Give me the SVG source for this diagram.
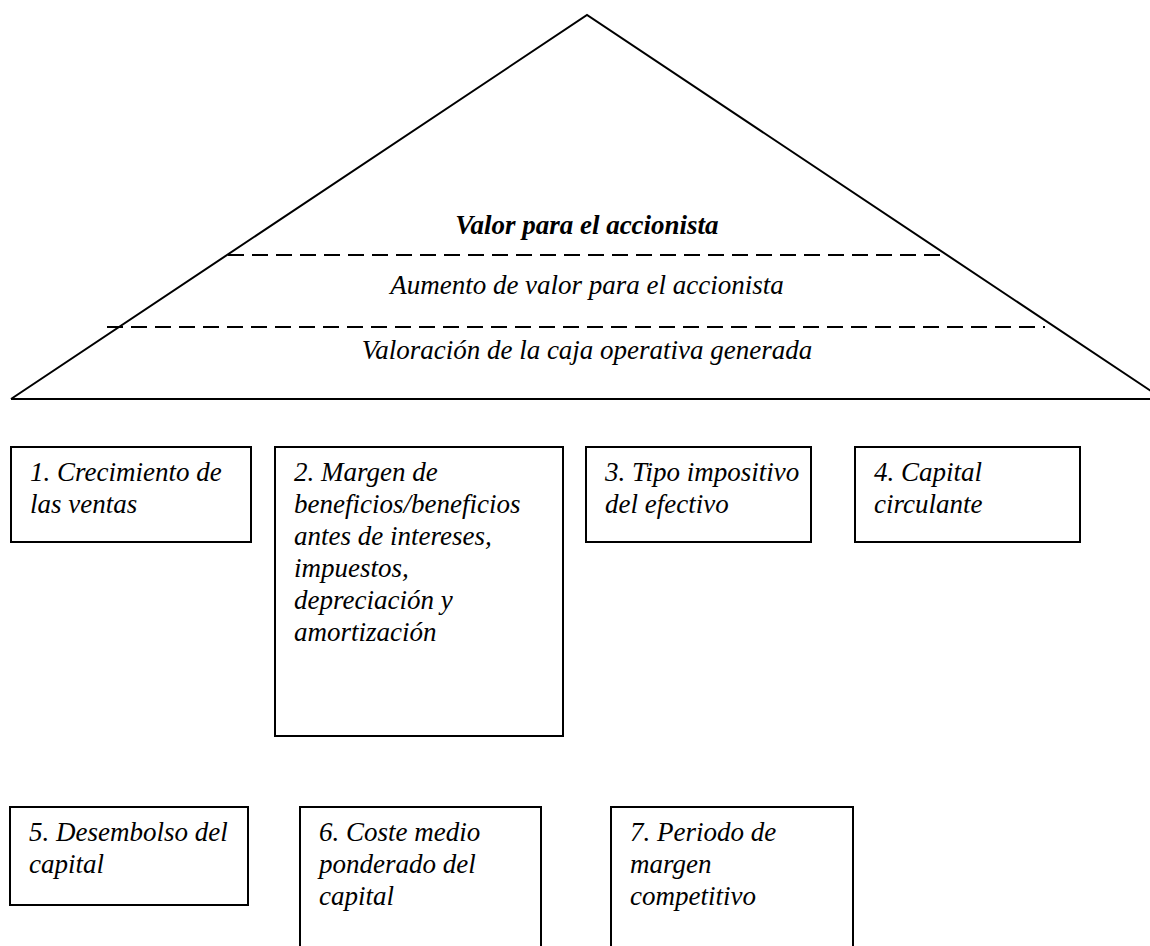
<svg xmlns="http://www.w3.org/2000/svg" width="1150" height="946" viewBox="0 0 1150 946">
  <style>
    .edge { fill: none; stroke: #000; stroke-width: 2; }
    .dash { fill: none; stroke: #000; stroke-width: 2; stroke-dasharray: 16 8; }
    .box { fill: #fff; stroke: #000; stroke-width: 2; }
    .t { font-family: "Liberation Serif", "Times New Roman", serif; font-style: italic; font-size: 27px; fill: #000; }
    .tc { text-anchor: middle; }
    .b { font-weight: bold; }
  </style>
  <rect width="1150" height="946" fill="#fff"/>

  <!-- pyramid with its two dashed bands -->
  <g id="pyramid">
    <polyline class="edge" points="11,399 587,15 1163,399"/>
    <line class="edge" x1="11" y1="399" x2="1150" y2="399"/>
    <line class="dash" x1="228" y1="255" x2="947" y2="255"/>
    <line class="dash" x1="107" y1="327" x2="1045" y2="327"/>
    <text class="t tc b" x="587" y="234">Valor para el accionista</text>
    <text class="t tc" x="587" y="294">Aumento de valor para el accionista</text>
    <text class="t tc" x="587" y="359">Valoración de la caja operativa generada</text>
  </g>

  <g id="connectors"></g>

  <g id="n1">
    <rect class="box" x="11" y="447" width="240" height="95"/>
    <text class="t" x="30" y="481">1. Crecimiento de<tspan x="30" dy="32">las ventas</tspan></text>
  </g>
  <g id="n2">
    <rect class="box" x="275" y="447" width="288" height="289"/>
    <text class="t" x="294" y="481">2. Margen de<tspan x="294" dy="32">beneficios/beneficios</tspan><tspan x="294" dy="32">antes de intereses,</tspan><tspan x="294" dy="32">impuestos,</tspan><tspan x="294" dy="32">depreciación y</tspan><tspan x="294" dy="32">amortización</tspan></text>
  </g>
  <g id="n3">
    <rect class="box" x="586" y="447" width="225" height="95"/>
    <text class="t" x="605" y="481">3. Tipo impositivo<tspan x="605" dy="32">del efectivo</tspan></text>
  </g>
  <g id="n4">
    <rect class="box" x="855" y="447" width="225" height="95"/>
    <text class="t" x="874" y="481">4. Capital<tspan x="874" dy="32">circulante</tspan></text>
  </g>
  <g id="n5">
    <rect class="box" x="10" y="807" width="238" height="98"/>
    <text class="t" x="29" y="841">5. Desembolso del<tspan x="29" dy="32">capital</tspan></text>
  </g>
  <g id="n6">
    <rect class="box" x="300" y="807" width="241" height="150"/>
    <text class="t" x="319" y="841">6. Coste medio<tspan x="319" dy="32">ponderado del</tspan><tspan x="319" dy="32">capital</tspan></text>
  </g>
  <g id="n7">
    <rect class="box" x="611" y="807" width="242" height="150"/>
    <text class="t" x="630" y="841">7. Periodo de<tspan x="630" dy="32">margen</tspan><tspan x="630" dy="32">competitivo</tspan></text>
  </g>
</svg>
